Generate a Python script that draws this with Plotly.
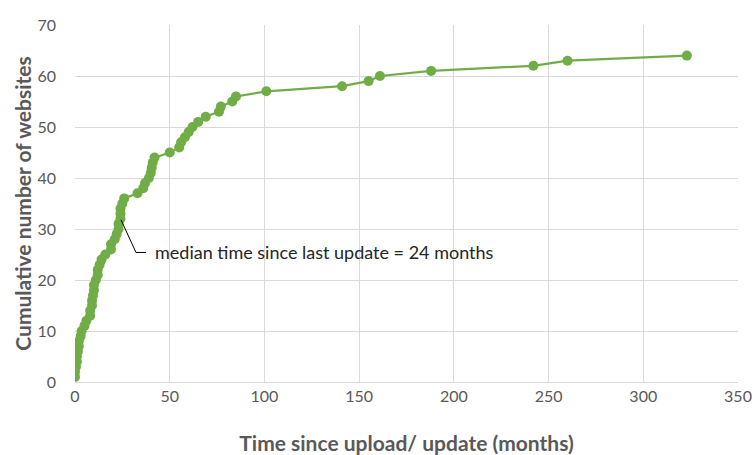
import plotly.graph_objects as go

# Time since upload/update (months), sorted, one per website
months = [0, 0, 0.5, 1, 1, 1.5, 2, 2, 3, 3.5,
          5, 6, 8, 8, 9, 9, 9.5, 10, 10, 11,
          12, 12, 13, 14, 16, 19, 19, 21, 22, 23,
          23, 24, 24, 24, 25, 26, 33, 36, 37, 39,
          40, 40.5, 41, 42, 50, 55, 56, 58, 60, 62,
          65, 69, 76, 77, 83, 85, 101, 141, 155, 161,
          188, 242, 260, 323]
cumulative = list(range(1, len(months) + 1))

x_ticks = [0, 50, 100, 150, 200, 250, 300, 350]
y_ticks = [0, 10, 20, 30, 40, 50, 60, 70]

annot_text = "median time since last update = 24 months"
arrow_x = [24.3, 32.2, 37.5]
arrow_y = [31.8, 25.4, 25.4]

GREEN = "#70AD47"
GRAY = "#595959"
FONT = "Lato, Open Sans, sans-serif"

fig = go.Figure()
fig.add_trace(go.Scatter(
    x=months, y=cumulative, mode="lines+markers",
    line=dict(color=GREEN, width=2.2),
    marker=dict(color=GREEN, size=10),
    showlegend=False, hoverinfo="skip",
))
fig.add_trace(go.Scatter(
    x=arrow_x, y=arrow_y, mode="lines",
    line=dict(color="#000000", width=1),
    showlegend=False, hoverinfo="skip",
))
fig.add_annotation(
    x=arrow_x[-1] + 3.5, y=arrow_y[-1], text=annot_text,
    showarrow=False, xanchor="left", yanchor="middle",
    font=dict(family=FONT, size=18, color="#262626"),
)

fig.update_layout(
    width=756, height=455,
    margin=dict(l=75, r=18, t=25, b=73),
    paper_bgcolor="white", plot_bgcolor="white",
    font=dict(family=FONT, color=GRAY, size=16),
    xaxis=dict(
        range=[0, 350], tickvals=x_ticks, ticktext=[str(v) for v in x_ticks],
        showgrid=True, gridcolor="#D9D9D9", gridwidth=1,
        zeroline=False, showline=True, linecolor="#D9D9D9",
        ticks="", ticklabelstandoff=0, automargin=False,
        ticklabeloverflow="allow",
        tickfont=dict(family=FONT, size=16, color=GRAY),
        title=dict(text="<b>Time since upload/ update (months)</b>",
                   font=dict(family=FONT, size=21, color=GRAY), standoff=36),
    ),
    yaxis=dict(
        range=[0, 70], tickvals=y_ticks, ticktext=[str(v) for v in y_ticks],
        showgrid=True, gridcolor="#D9D9D9", gridwidth=1,
        zeroline=False, showline=False,
        ticks="", ticklabelstandoff=18, automargin=False,
        tickfont=dict(family=FONT, size=16, color=GRAY),
        title=dict(text="<b>Cumulative number of websites</b>",
                   font=dict(family=FONT, size=21, color=GRAY), standoff=0),
    ),
)

# remove the default 8px page margin so the figure fills the window exactly
fig.write_html("out.html", config={"displayModeBar": False},
               post_script="document.body.style.margin='0';")
